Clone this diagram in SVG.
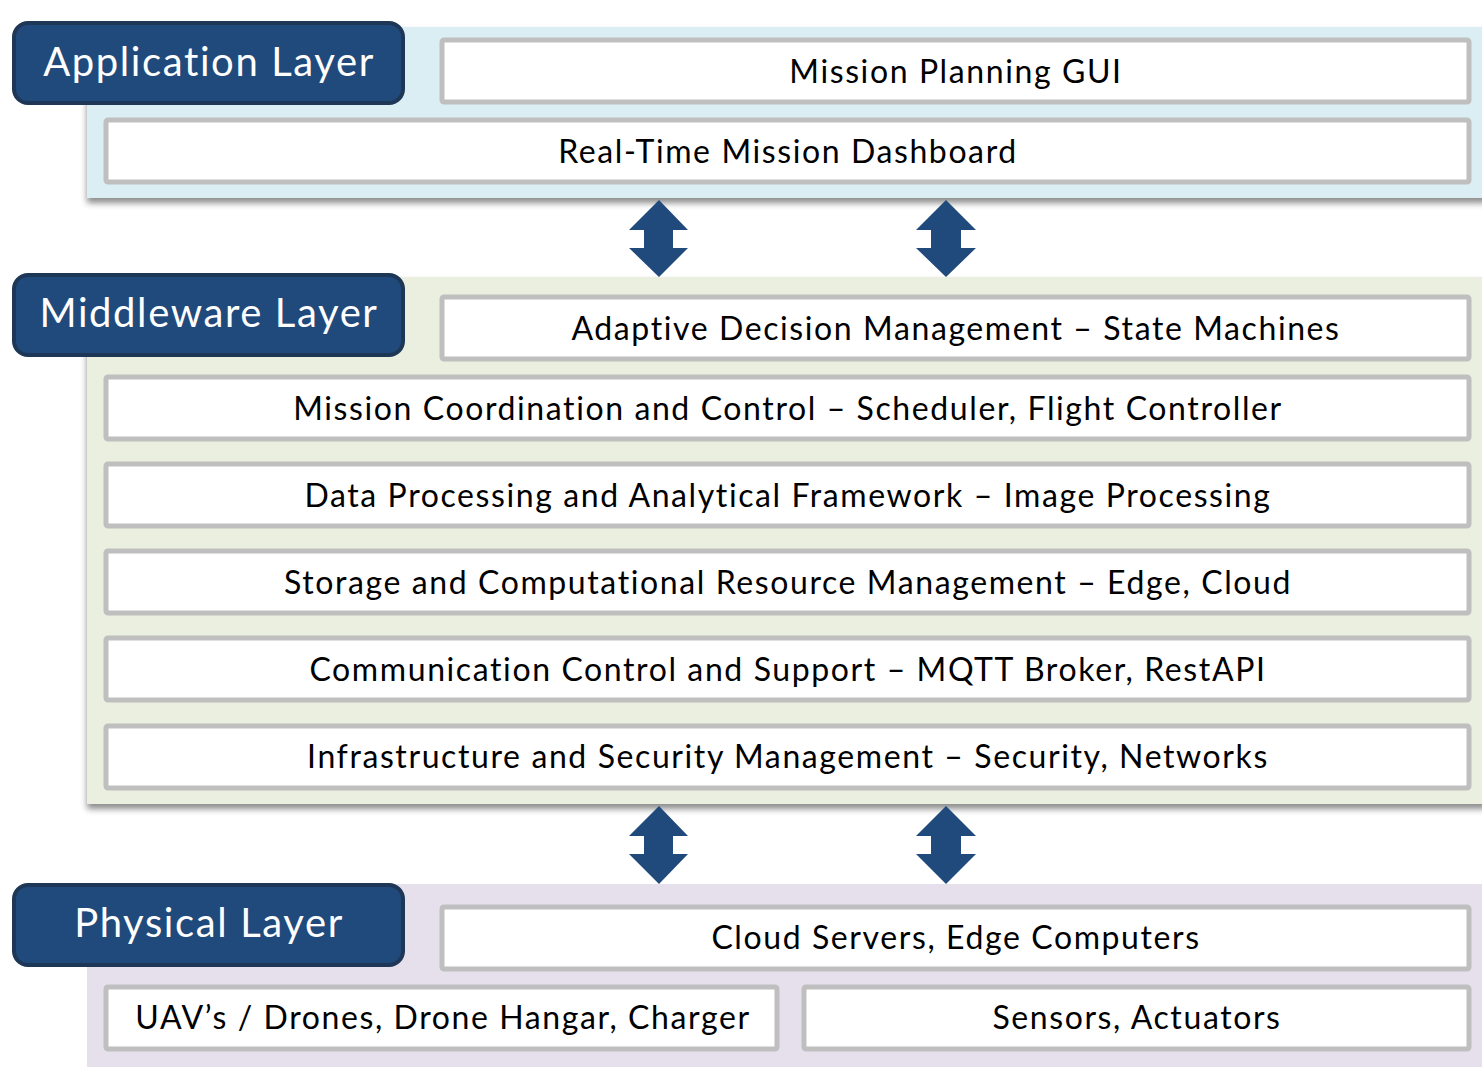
<svg xmlns="http://www.w3.org/2000/svg" width="1482" height="1067" viewBox="0 0 1482 1067">
<defs>
<filter id="sh" x="-5%" y="-10%" width="110%" height="130%">
<feDropShadow dx="0" dy="5" stdDeviation="3" flood-color="#000" flood-opacity="0.45"/>
</filter>
<style>
.lbl{fill:#214A7C;stroke:#1F3757;stroke-width:4}
.lt{fill:#fff;font-family:Lato,"Noto Sans",sans-serif;font-size:40px;text-anchor:middle;letter-spacing:1.6px}
.bx{fill:#fff;stroke:#BFBFBF;stroke-width:5}
.bt{fill:#000;font-family:Lato,"Noto Sans",sans-serif;font-size:32px;text-anchor:middle;letter-spacing:1.6px}
.arr{fill:#214A7C}
</style>
</defs>
<rect width="1482" height="1067" fill="#fff"/>
<g id="app-panel">
<rect x="87" y="27" width="1400" height="171" fill="#DBEEF3" filter="url(#sh)"/>
</g>
<g id="mid-panel">
<rect x="87" y="277" width="1400" height="527" fill="#EBEFDF" filter="url(#sh)"/>
</g>
<g id="phy-panel">
<rect x="87" y="884" width="1400" height="190" fill="#E5E0EC"/>
</g>
<g id="app-label"><rect class="lbl" x="14" y="23" width="389" height="80" rx="14"/><text class="lt" x="209" y="76">Application Layer</text></g>
<g id="mission-planning-gui"><rect class="bx" x="442" y="40" width="1027" height="62" rx="2"/><text class="bt" x="956" y="83">Mission Planning GUI</text></g>
<g id="realtime-dashboard"><rect class="bx" x="106" y="120" width="1363" height="62" rx="2"/><text class="bt" x="788" y="163">Real-Time Mission Dashboard</text></g>
<g id="mid-label"><rect class="lbl" x="14" y="275" width="389" height="80" rx="14"/><text class="lt" x="209" y="327">Middleware Layer</text></g>
<g id="adaptive"><rect class="bx" x="442" y="297" width="1027" height="62" rx="2"/><text class="bt" x="956" y="340">Adaptive Decision Management – State Machines</text></g>
<g id="coordination"><rect class="bx" x="106" y="377" width="1363" height="62" rx="2"/><text class="bt" x="788" y="420">Mission Coordination and Control – Scheduler, Flight Controller</text></g>
<g id="data-processing"><rect class="bx" x="106" y="464" width="1363" height="62" rx="2"/><text class="bt" x="788" y="507">Data Processing and Analytical Framework – Image Processing</text></g>
<g id="storage"><rect class="bx" x="106" y="551" width="1363" height="62" rx="2"/><text class="bt" x="788" y="594">Storage and Computational Resource Management – Edge, Cloud</text></g>
<g id="communication"><rect class="bx" x="106" y="638" width="1363" height="62" rx="2"/><text class="bt" x="788" y="681">Communication Control and Support – MQTT Broker, RestAPI</text></g>
<g id="infrastructure"><rect class="bx" x="106" y="726" width="1363" height="62" rx="2"/><text class="bt" x="788" y="768">Infrastructure and Security Management – Security, Networks</text></g>
<g id="phy-label"><rect class="lbl" x="14" y="885" width="389" height="80" rx="14"/><text class="lt" x="209" y="937">Physical Layer</text></g>
<g id="cloud-edge"><rect class="bx" x="442" y="907" width="1027" height="62" rx="2"/><text class="bt" x="956" y="949">Cloud Servers, Edge Computers</text></g>
<g id="uavs"><rect class="bx" x="106" y="987" width="671" height="62" rx="2"/><text class="bt" x="443" y="1029">UAV’s / Drones, Drone Hangar, Charger</text></g>
<g id="sensors"><rect class="bx" x="804" y="987" width="665" height="62" rx="2"/><text class="bt" x="1137" y="1029">Sensors, Actuators</text></g>
<g id="connectors">
<path class="arr" d="M659,200 L688,230 L673,230 L673,248 L688,248 L659,277 L629,248 L644,248 L644,230 L629,230 Z"/>
<path class="arr" d="M946,200 L976,230 L961,230 L961,248 L976,248 L946,277 L916,248 L931,248 L931,230 L916,230 Z"/>
<path class="arr" d="M659,806 L688,836 L673,836 L673,854 L688,854 L659,884 L629,854 L644,854 L644,836 L629,836 Z"/>
<path class="arr" d="M946,806 L976,836 L961,836 L961,854 L976,854 L946,884 L916,854 L931,854 L931,836 L916,836 Z"/>
</g>
</svg>
